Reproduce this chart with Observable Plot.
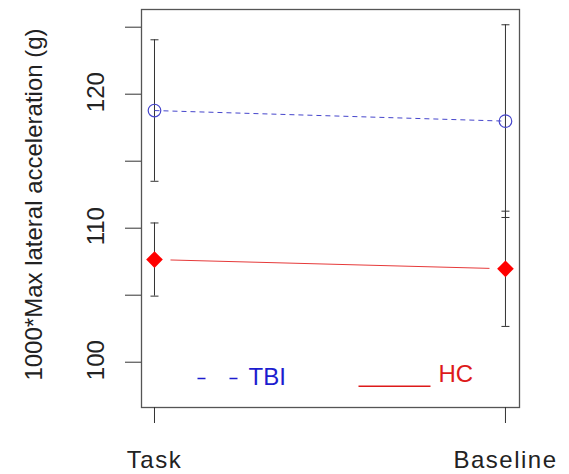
<!DOCTYPE html>
<html>
<head>
<meta charset="utf-8">
<script src="https://cdn.jsdelivr.net/npm/d3@7"></script>
<script src="https://cdn.jsdelivr.net/npm/@observablehq/plot@0.6"></script>
<style>
  html, body { margin: 0; padding: 0; background: #fff; }
  g[aria-label="x-axis tick label"] text { letter-spacing: 1.5px; }
</style>
</head>
<body>
<div id="chart"></div>
<script>
// ---- data ----
const conditions = ["Task", "Baseline"];
const tbiMean = [118.78, 117.99];
const tbiErr  = [5.28, 7.19];
const hcMean  = [107.66, 106.97];
const hcErr   = [2.73, 4.30];
const yTicks  = [100, 105, 110, 115, 120, 125];
const yTickLabels = [100, 110, 120];
const yLabel = "1000*Max lateral acceleration (g)";
const legendTBI = "TBI";
const legendHC = "HC";

// ---- tables built from the arrays ----
const tbi = conditions.map((c, i) => ({cond: c, xi: i + 1, mean: tbiMean[i], lo: tbiMean[i] - tbiErr[i], hi: tbiMean[i] + tbiErr[i]}));
const hc  = conditions.map((c, i) => ({cond: c, xi: i + 1, mean: hcMean[i],  lo: hcMean[i] - hcErr[i],  hi: hcMean[i] + hcErr[i]}));
const all = tbi.concat(hc);
const caps = all.flatMap(d => [{xi: d.xi, v: d.lo}, {xi: d.xi, v: d.hi}]);

// custom symbol: horizontal segment (half-length = r)
const hSeg = {draw(ctx, size) { const w = Math.sqrt(size / Math.PI); ctx.moveTo(-w, 0); ctx.lineTo(w, 0); }};

const BLUE_LINE = "#4646cc";
const BLUE_TEXT = "#1c1ccf";
const RED = "#ff0000";
const RED_TEXT = "#dd1a1a";
const AX = "#333";

const chart = Plot.plot({
  width: 569,
  height: 474,
  marginLeft: 141,
  marginRight: 50,
  marginTop: 9,
  marginBottom: 67,
  style: {fontFamily: "'Liberation Sans', Arial, Helvetica, sans-serif", fontSize: "24px", background: "#fff", color: "#222"},
  x: {domain: [0.963, 2.04]},
  y: {domain: [96.62, 126.32]},
  marks: [
    Plot.frame({stroke: "#555", strokeWidth: 1.3}),
    Plot.axisX({ticks: [1, 2], tickSize: 16, tickPadding: 27, tickFormat: d => conditions[d - 1], label: null, stroke: AX, fill: "#222"}),
    Plot.axisY({ticks: yTicks, tickSize: 16, tickFormat: () => "", label: null, stroke: AX}),
    Plot.text(yTickLabels, {y: d => d, text: d => String(d), frameAnchor: "left", dx: -45, dy: -2, rotate: -90, textAnchor: "middle", lineAnchor: "middle", fill: "#222"}),
    Plot.text([yLabel], {text: d => d, frameAnchor: "left", dx: -107, dy: -4, rotate: -90, textAnchor: "middle", lineAnchor: "middle", fill: "#222"}),
    // error bars
    Plot.ruleX(all, {x: "xi", y1: "lo", y2: "hi", stroke: AX, strokeWidth: 1}),
    Plot.dot(caps, {x: "xi", y: "v", symbol: hSeg, r: 4, stroke: AX, strokeWidth: 1}),
    // TBI dashed line + open circles
    Plot.line(tbi, {x: "xi", y: "mean", stroke: BLUE_LINE, strokeWidth: 1, strokeDasharray: "5,4", strokeLinecap: "butt"}),
    Plot.dot(tbi, {x: "xi", y: "mean", symbol: "circle", r: 6.3, stroke: BLUE_LINE, strokeWidth: 1.2, fill: "none"}),
    // HC solid line (with gaps around points) + filled diamonds
    Plot.line(hc, {x: "xi", y: "mean", stroke: "#e63a3a", strokeWidth: 1, strokeDasharray: "0,16,319.1,40", strokeLinecap: "butt"}),
    Plot.dot(hc, {x: "xi", y: "mean", symbol: "diamond2", r: 7.5, fill: RED, stroke: "none"}),
    // legend
    Plot.dot([0], {frameAnchor: "bottom-left", dx: 76, dy: -29, symbol: hSeg, r: 20, stroke: BLUE_TEXT, strokeWidth: 1.3, strokeDasharray: "8,24"}),
    Plot.text([legendTBI], {text: d => d, frameAnchor: "bottom-left", dx: 107, dy: -30.5, textAnchor: "start", lineAnchor: "middle", fill: BLUE_TEXT}),
    Plot.dot([0], {frameAnchor: "bottom-left", dx: 253, dy: -21.3, symbol: hSeg, r: 36, stroke: RED_TEXT, strokeWidth: 1.5}),
    Plot.text([legendHC], {text: d => d, frameAnchor: "bottom-left", dx: 297, dy: -33, textAnchor: "start", lineAnchor: "middle", fill: RED_TEXT})
  ]
});
document.getElementById("chart").appendChild(chart);
</script>
</body>
</html>
